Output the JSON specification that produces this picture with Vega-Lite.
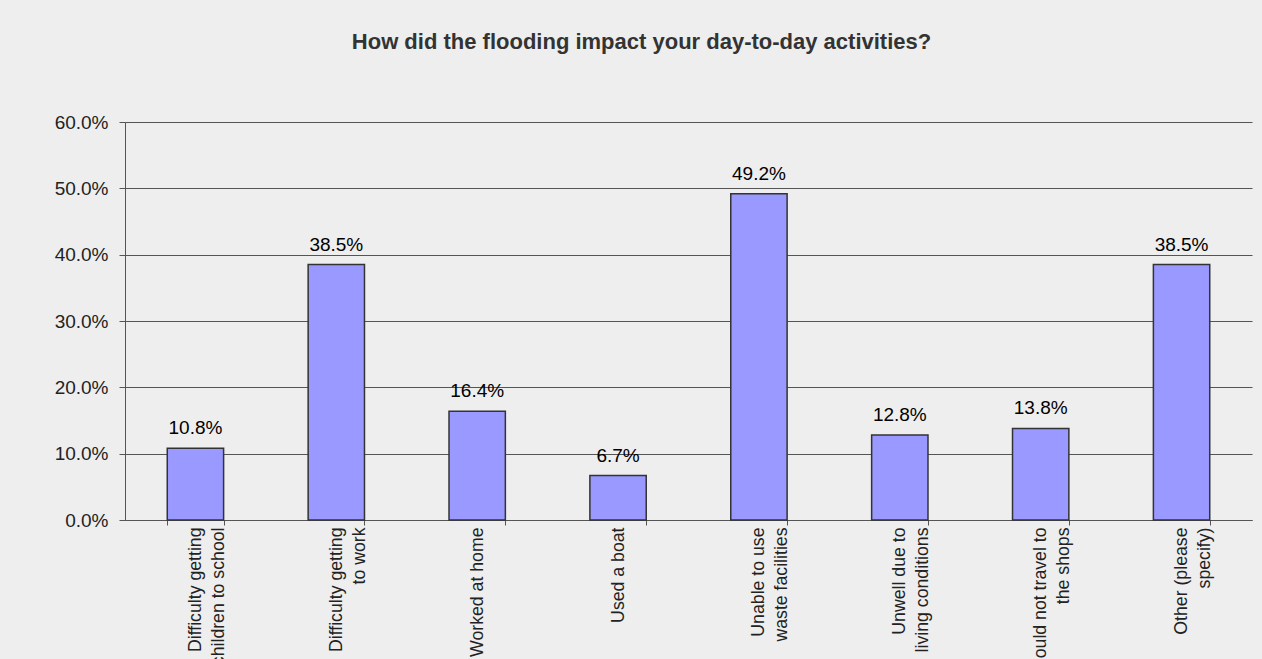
{
  "$schema": "https://vega.github.io/schema/vega-lite/v6.json",
  "width": 1127,
  "height": 398,
  "autosize": {"type": "none"},
  "padding": {"left": 125, "top": 122, "right": 10, "bottom": 139},
  "background": "#EEEEEE",
  "title": {
    "text": "How did the flooding impact your day-to-day activities?",
    "fontSize": 22,
    "fontWeight": "bold",
    "font": "Liberation Sans",
    "color": "#333333",
    "anchor": "middle",
    "dx": -47,
    "offset": 59
  },
  "data": {
    "values": [
      {"activity": "Difficulty getting|children to school", "pct": 0.108},
      {"activity": "Difficulty getting|to work", "pct": 0.385},
      {"activity": "Worked at home", "pct": 0.164},
      {"activity": "Used a boat", "pct": 0.067},
      {"activity": "Unable to use|waste facilities", "pct": 0.492},
      {"activity": "Unwell due to|living conditions", "pct": 0.128},
      {"activity": "Could not travel to|the shops", "pct": 0.138},
      {"activity": "Other (please|specify)", "pct": 0.385}
    ]
  },
  "encoding": {
    "x": {
      "field": "activity",
      "type": "nominal",
      "sort": null,
      "scale": {"paddingInner": 0.6, "paddingOuter": 0.3},
      "axis": {
        "title": null,
        "labelAngle": -90,
        "labelAlign": "right",
        "labelBaseline": "middle",
        "labelExpr": "split(datum.label, '|')",
        "labelFont": "Liberation Sans",
        "labelFontSize": 17.7,
        "labelLineHeight": 23,
        "labelColor": "#222222",
        "labelPadding": 2,
        "labelOverlap": false,
        "labelLimit": 0,
        "tickBand": "extent",
        "tickSize": 5,
        "tickColor": "#555555",
        "domainColor": "#555555",
        "grid": false
      }
    },
    "y": {
      "field": "pct",
      "type": "quantitative",
      "scale": {"domain": [0, 0.6], "nice": false},
      "axis": {
        "title": null,
        "format": ".1%",
        "values": [0, 0.1, 0.2, 0.3, 0.4, 0.5, 0.6],
        "grid": true,
        "gridColor": "#555555",
        "gridOpacity": 1,
        "domainColor": "#555555",
        "tickColor": "#555555",
        "tickSize": 6,
        "labelPadding": 11,
        "labelFont": "Liberation Sans",
        "labelFontSize": 19,
        "labelColor": "#222222"
      }
    }
  },
  "layer": [
    {"mark": {"type": "bar", "fill": "#9999FF", "stroke": "#333333", "strokeWidth": 1.5}},
    {
      "mark": {"type": "text", "baseline": "alphabetic", "dy": -14, "fontSize": 19, "font": "Liberation Sans", "color": "#000000"},
      "encoding": {"text": {"field": "pct", "type": "quantitative", "format": ".1%"}}
    }
  ],
  "config": {"view": {"stroke": null}}
}
